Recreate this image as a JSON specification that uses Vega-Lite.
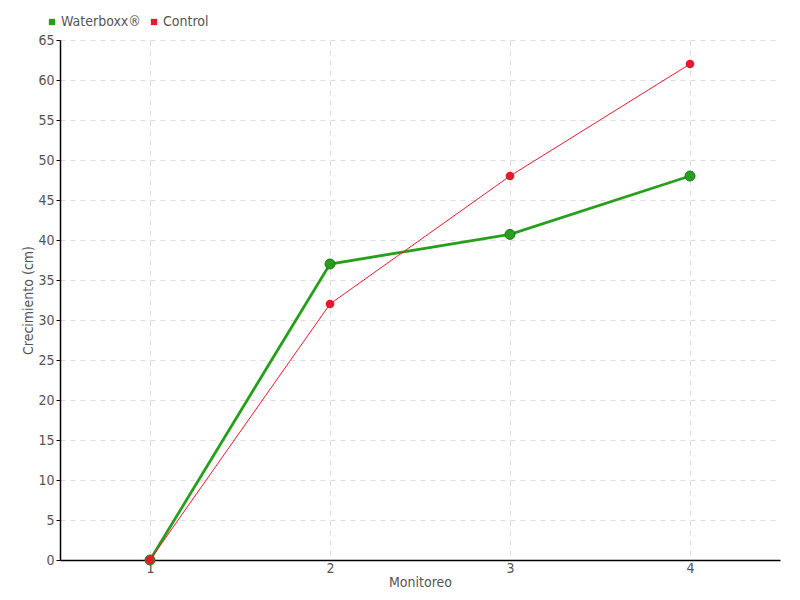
{
  "$schema": "https://vega.github.io/schema/vega-lite/v6.json",
  "width": 720,
  "height": 520,
  "autosize": {"type": "none"},
  "padding": {"left": 60, "top": 40, "right": 20, "bottom": 40},
  "background": "white",
  "config": {
    "view": {"stroke": null},
    "font": "Liberation Sans Narrow, DejaVu Sans Condensed, Roboto Condensed, sans-serif",
    "axis": {
      "labelFont": "Liberation Sans Narrow, DejaVu Sans Condensed, sans-serif",
      "titleFont": "Liberation Sans Narrow, DejaVu Sans Condensed, sans-serif",
      "labelColor": "#555555",
      "titleColor": "#555555",
      "labelFontSize": 14,
      "titleFontSize": 14,
      "titleFontWeight": "normal",
      "domainColor": "#000000",
      "domainWidth": 1.5,
      "gridColor": "#dddddd",
      "gridDash": [5, 5],
      "gridWidth": 1
    }
  },
  "data": {
    "values": [
      {"monitoreo": "1", "serie": "Waterboxx®", "valor": 0},
      {"monitoreo": "2", "serie": "Waterboxx®", "valor": 37},
      {"monitoreo": "3", "serie": "Waterboxx®", "valor": 40.7},
      {"monitoreo": "4", "serie": "Waterboxx®", "valor": 48},
      {"monitoreo": "1", "serie": "Control", "valor": 0},
      {"monitoreo": "2", "serie": "Control", "valor": 32},
      {"monitoreo": "3", "serie": "Control", "valor": 48},
      {"monitoreo": "4", "serie": "Control", "valor": 62}
    ]
  },
  "encoding": {
    "x": {
      "field": "monitoreo",
      "type": "ordinal",
      "scale": {"type": "point", "padding": 0.5},
      "axis": {
        "title": "Monitoreo",
        "labelAngle": 0,
        "grid": true,
        "ticks": false,
        "labelPadding": 1,
        "titlePadding": 0
      }
    },
    "y": {
      "field": "valor",
      "type": "quantitative",
      "scale": {"domain": [0, 65], "nice": false},
      "axis": {
        "title": "Crecimiento (cm)",
        "values": [0, 5, 10, 15, 20, 25, 30, 35, 40, 45, 50, 55, 60, 65],
        "tickColor": "#000000",
        "tickSize": 4,
        "labelPadding": 2,
        "titlePadding": 2
      }
    },
    "color": {
      "field": "serie",
      "type": "nominal",
      "scale": {"domain": ["Waterboxx®", "Control"], "range": ["#26a01c", "#e8192c"]},
      "legend": {
        "title": null,
        "orient": "none",
        "legendX": -15,
        "legendY": -25,
        "direction": "horizontal",
        "symbolType": "square",
        "symbolSize": 40,
        "symbolStrokeWidth": 0,
        "labelFontSize": 14,
        "labelColor": "#555555",
        "labelFont": "Liberation Sans Narrow, DejaVu Sans Condensed, sans-serif",
        "columnPadding": 6,
        "labelOffset": 2
      }
    }
  },
  "layer": [
    {
      "transform": [{"filter": "datum.serie === 'Waterboxx®'"}],
      "mark": {"type": "line", "strokeWidth": 2.8, "color": "#26a01c"}
    },
    {
      "transform": [{"filter": "datum.serie === 'Waterboxx®'"}],
      "mark": {"type": "point", "filled": true, "size": 100, "opacity": 1, "fill": "#26a01c", "stroke": "#1c7a16", "strokeWidth": 1}
    },
    {
      "transform": [{"filter": "datum.serie === 'Control'"}],
      "mark": {"type": "line", "strokeWidth": 1, "color": "#ff4a5c"}
    },
    {
      "transform": [{"filter": "datum.serie === 'Control'"}],
      "mark": {"type": "point", "filled": true, "size": 75, "opacity": 1, "fill": "#e8192c"}
    }
  ]
}
